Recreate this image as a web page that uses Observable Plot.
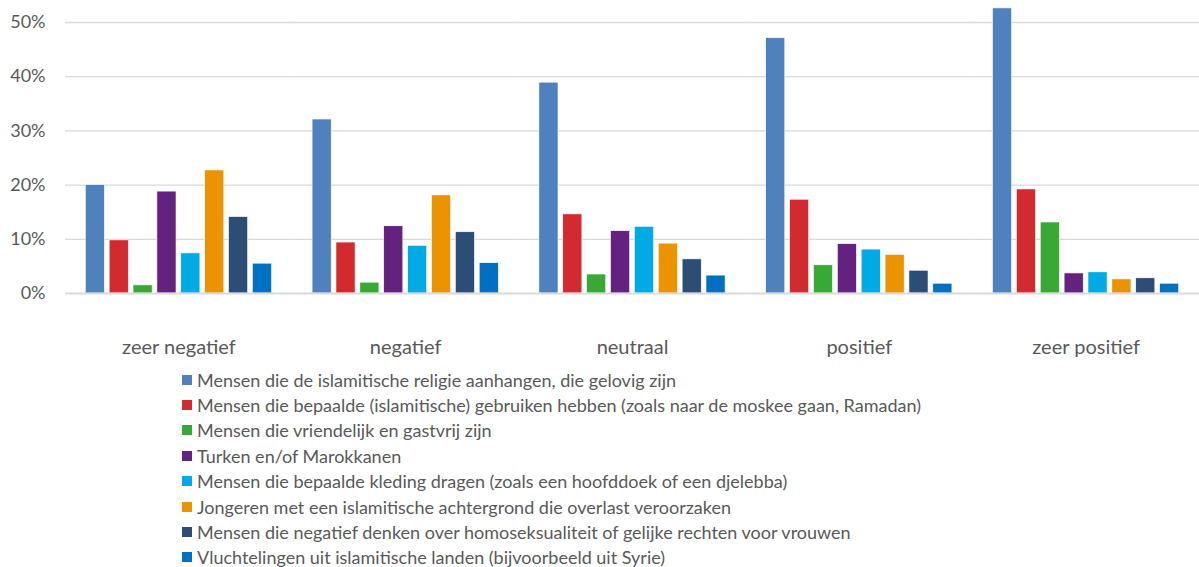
<!DOCTYPE html>
<html>
<head>
<meta charset="utf-8">
<script src="https://cdn.jsdelivr.net/npm/d3@7"></script>
<script src="https://cdn.jsdelivr.net/npm/@observablehq/plot@0.6"></script>
<style>
  html, body { margin: 0; padding: 0; background: #fff; }
  body { width: 1199px; height: 567px; overflow: hidden; font-family: Lato, "Open Sans", sans-serif; }
  #legend { padding-left: 182px; color: #595959; font-size: 18px; }
  .row { display: flex; align-items: center; height: 25.4px; white-space: nowrap; }
  .sw { width: 10px; height: 10px; margin-right: 5px; flex: none; }
</style>
</head>
<body>
<div id="chart"></div>
<div id="legend"></div>
<script>
const categories = ["zeer negatief", "negatief", "neutraal", "positief", "zeer positief"];
const series = [
  "Mensen die de islamitische religie aanhangen, die gelovig zijn",
  "Mensen die bepaalde (islamitische) gebruiken hebben (zoals naar de moskee gaan, Ramadan)",
  "Mensen die vriendelijk en gastvrij zijn",
  "Turken en/of Marokkanen",
  "Mensen die bepaalde kleding dragen (zoals een hoofddoek of een djelebba)",
  "Jongeren met een islamitische achtergrond die overlast veroorzaken",
  "Mensen die negatief denken over homoseksualiteit of gelijke rechten voor vrouwen",
  "Vluchtelingen uit islamitische landen (bijvoorbeeld uit Syrie)"
];
const colors = ["#4f81bd", "#d12b30", "#38a935", "#63227f", "#00aae4", "#eb9300", "#2c4d75", "#0070c0"];
const s1 = [20.0, 32.1, 38.9, 47.1, 52.6];
const s2 = [9.8, 9.4, 14.6, 17.3, 19.2];
const s3 = [1.5, 2.0, 3.5, 5.2, 13.1];
const s4 = [18.8, 12.4, 11.5, 9.1, 3.7];
const s5 = [7.4, 8.8, 12.3, 8.1, 3.9];
const s6 = [22.7, 18.1, 9.2, 7.1, 2.6];
const s7 = [14.1, 11.3, 6.3, 4.2, 2.8];
const s8 = [5.5, 5.6, 3.3, 1.8, 1.8];
const yTicks = [0, 10, 20, 30, 40, 50];

const allSeries = [s1, s2, s3, s4, s5, s6, s7, s8];
const data = [];
allSeries.forEach((vals, si) => {
  vals.forEach((v, ci) => data.push({cat: categories[ci], series: series[si], value: v}));
});

const chart = Plot.plot({
  width: 1199,
  height: 367,
  marginLeft: 65,
  marginRight: 0,
  marginTop: 22,
  marginBottom: 74,
  style: {fontFamily: "Lato, 'Open Sans', sans-serif", fontSize: "18px", color: "#595959", background: "#fff"},
  fx: {domain: categories, padding: 0, round: false, axis: null},
  x: {domain: series, axis: null, paddingInner: 0.2, paddingOuter: 0.85, round: false},
  y: {domain: [0, 50], ticks: yTicks, tickFormat: d => d + "%", tickSize: 0, tickPadding: 20, label: null},
  color: {domain: series, range: colors},
  marks: [
    Plot.gridY(yTicks.filter(d => d > 0), {stroke: "#d9d9d9", strokeOpacity: 1, strokeWidth: 1.3}),
    Plot.barY(data, {fx: "cat", x: "series", y: "value", fill: "series", stroke: "#ffffff", strokeWidth: 0.6}),
    Plot.ruleY([0], {stroke: "#d9d9d9", strokeWidth: 2}),
    Plot.axisFx({anchor: "bottom", tickSize: 0, tickPadding: 46, label: null, fontSize: 20})
  ]
});
document.getElementById("chart").appendChild(chart);

const legend = document.getElementById("legend");
series.forEach((s, i) => {
  const row = document.createElement("div");
  row.className = "row";
  const sw = document.createElement("span");
  sw.className = "sw";
  sw.style.background = colors[i];
  const t = document.createElement("span");
  t.textContent = s;
  row.appendChild(sw);
  row.appendChild(t);
  legend.appendChild(row);
});
</script>
</body>
</html>
